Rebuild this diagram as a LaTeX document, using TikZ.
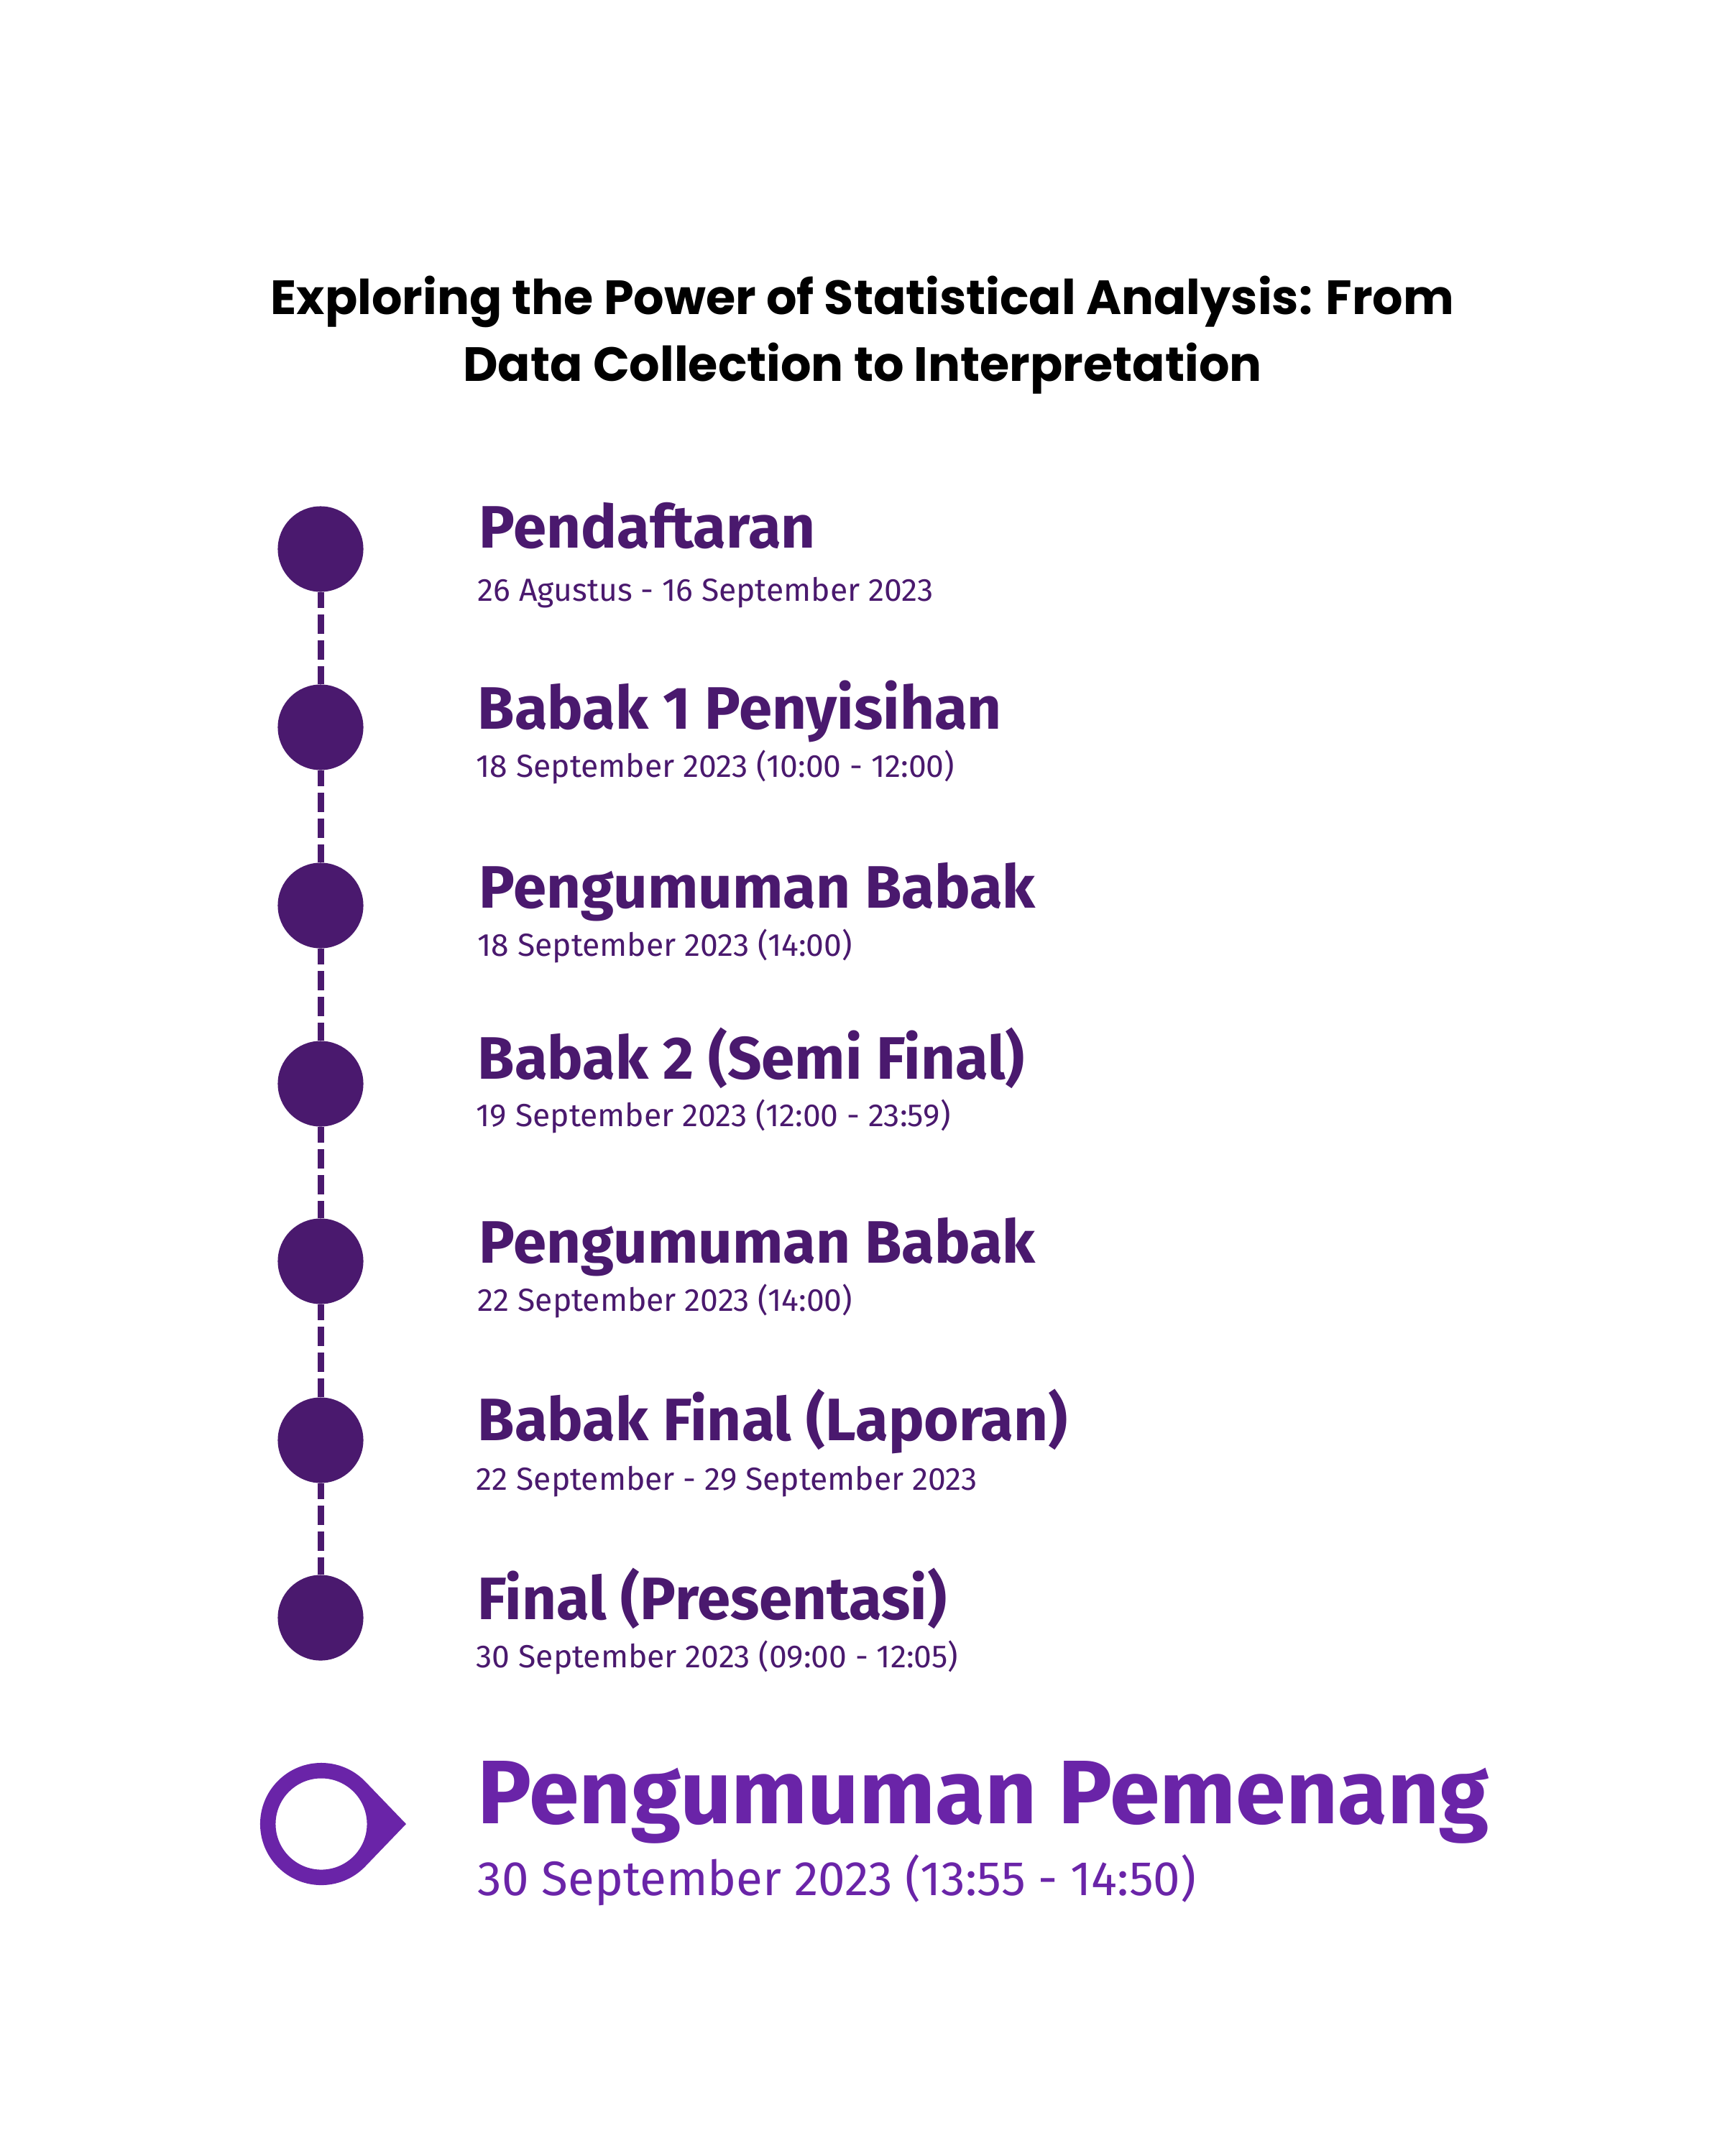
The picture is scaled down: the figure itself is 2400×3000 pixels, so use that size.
\documentclass[tikz,border=0pt]{standalone}
\usepackage{fontspec}
\usetikzlibrary{calc}
\setmainfont{Fira Sans}
\newfontfamily\titlefont{Poppins}
\definecolor{darkpurple}{HTML}{4A196E}
\definecolor{brightpurple}{HTML}{6A24A8}
\tikzset{
  dot/.style={circle, fill=darkpurple, minimum size=1.19cm, inner sep=0pt},
  heading/.style={anchor=base west, inner sep=0pt, text=darkpurple, font=\fontsize{23.7}{27}\selectfont\bfseries},
  datetext/.style={anchor=base west, inner sep=0pt, text=darkpurple, font=\fontsize{12.65}{15}\selectfont},
  titletext/.style={anchor=base, inner sep=0pt, text=black, font=\titlefont\fontsize{19}{24}\selectfont\bfseries},
  dashline/.style={draw=darkpurple, line width=0.09cm, dash pattern=on 0.27cm off 0.09cm, dash phase=0.05cm}
}
\begin{document}
\begin{tikzpicture}[x=0.01cm, y=0.01cm]
\useasboundingbox[fill=white] (0,0) rectangle (2400,-3000);
\node[titletext] (t1) at (1200,-437) {Exploring the Power of Statistical Analysis: From};
\node[titletext] (t2) at (1200,-530) {Data Collection to Interpretation};

\node[dot] (c1) at (446,-764) {};
\node[dot] (c2) at (446,-1012) {};
\node[dot] (c3) at (446,-1260) {};
\node[dot] (c4) at (446,-1508) {};
\node[dot] (c5) at (446,-1755) {};
\node[dot] (c6) at (446,-2004) {};
\node[dot] (c7) at (446,-2251) {};
\foreach \a/\b in {c1/c2,c2/c3,c3/c4,c4/c5,c5/c6,c6/c7}
  \draw[dashline] (\a) -- (\b);

\node[heading] (h1) at (666,-762) {Pendaftaran};
\node[datetext] (d1) at (664,-836) {26 Agustus - 16 September 2023};
\node[heading] (h2) at (664,-1014) {Babak 1 Penyisihan};
\node[datetext] (d2) at (662,-1081) {18 September 2023 (10:00 - 12:00)};
\node[heading] (h3) at (666,-1263) {Pengumuman Babak};
\node[datetext] (d3) at (664,-1330) {18 September 2023 (14:00)};
\node[heading] (h4) at (664,-1501) {Babak 2 (Semi Final)};
\node[datetext] (d4) at (662,-1567) {19 September 2023 (12:00 - 23:59)};
\node[heading] (h5) at (666,-1757) {Pengumuman Babak};
\node[datetext] (d5) at (664,-1824) {22 September 2023 (14:00)};
\node[heading] (h6) at (664,-2004) {Babak Final (Laporan)};
\node[datetext] (d6) at (662,-2073) {22 September - 29 September 2023};
\node[heading] (h7) at (664,-2253) {Final (Presentasi)};
\node[datetext] (d7) at (662,-2320) {30 September 2023 (09:00 - 12:05)};

% final marker (teardrop ring)
\coordinate (mc) at (447,-2538);
\fill[brightpurple, even odd rule] (565,-2538) -- ($(mc)+(45:0.85cm)$) arc[start angle=45, end angle=315, radius=0.85cm] -- cycle
  (mc) circle[radius=0.635cm];
\node[anchor=base west, inner sep=0pt, text=brightpurple, font=\fontsize{35.7}{42}\selectfont\bfseries] (h8) at (664,-2537) {Pengumuman Pemenang};
\node[anchor=base west, inner sep=0pt, text=brightpurple, font=\fontsize{19.15}{23}\selectfont] (d8) at (664,-2637) {30 September 2023 (13:55 - 14:50)};
\end{tikzpicture}
\end{document}
